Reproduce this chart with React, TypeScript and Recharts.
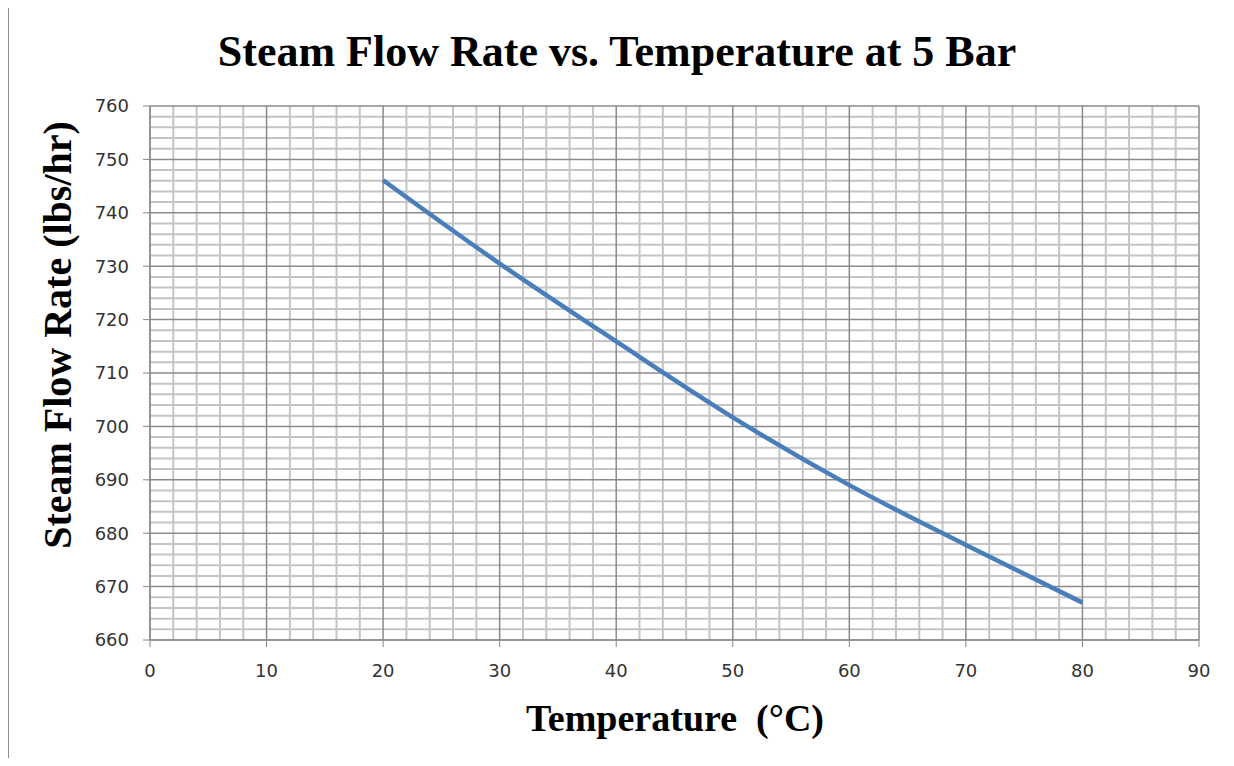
import React from 'react';
import { LineChart, Line, XAxis, YAxis, ReferenceLine } from 'recharts';

const temperatures = [20, 30, 40, 50, 60, 70, 80];
const flowRates = [746.1, 730.5, 715.9, 701.7, 689.0, 677.8, 667.0];

const xTicks = [0, 10, 20, 30, 40, 50, 60, 70, 80, 90];
const yTicks = [660, 670, 680, 690, 700, 710, 720, 730, 740, 750, 760];
const xMinor = [2, 4, 6, 8, 12, 14, 16, 18, 22, 24, 26, 28, 32, 34, 36, 38, 42, 44, 46, 48, 52, 54, 56, 58, 62, 64, 66, 68, 72, 74, 76, 78, 82, 84, 86, 88];
const yMinor = [662, 664, 666, 668, 672, 674, 676, 678, 682, 684, 686, 688, 692, 694, 696, 698, 702, 704, 706, 708, 712, 714, 716, 718, 722, 724, 726, 728, 732, 734, 736, 738, 742, 744, 746, 748, 752, 754, 756, 758];

const data = temperatures.map((t, i) => ({ t, v: flowRates[i] }));

const tickStyle = { fontFamily: 'DejaVu Sans, Verdana, sans-serif', fontSize: 18, fill: '#333' };
const serif = 'Liberation Serif, Times New Roman, serif';

export default function App() {
  return (
    <div style={{ margin: -8, position: 'relative', width: 1234, height: 766, background: '#fff', overflow: 'hidden' }}>
      <div style={{ position: 'absolute', left: 7, top: 6, width: 1300, height: 800, borderLeft: '2px solid #8c8c8c', borderTop: '2px solid #8c8c8c' }} />
      <div style={{ position: 'absolute', left: 0, width: 1234, top: 25, textAlign: 'center', fontFamily: serif, fontWeight: 'bold', fontSize: 44, lineHeight: '54px', color: '#000' }}>
        Steam Flow Rate vs. Temperature at 5 Bar
      </div>
      <div style={{ position: 'absolute', left: 0, top: 0 }}>
        <LineChart width={1234} height={766} data={data} margin={{ top: 106, right: 35, left: 0, bottom: 86 }}>
          <XAxis dataKey="t" type="number" domain={[0, 90]} ticks={xTicks} interval={0} height={40}
            stroke="#868686" tickSize={7} tickMargin={17} tick={tickStyle} />
          <YAxis type="number" domain={[660, 760]} ticks={yTicks} interval={0} width={150}
            stroke="#868686" tickSize={7} tickMargin={14} tick={tickStyle} />
          {xMinor.map((x) => (
            <ReferenceLine key={'xm' + x} x={x} stroke="#c4c4c4" strokeWidth={2} ifOverflow="hidden" />
          ))}
          {yMinor.map((y) => (
            <ReferenceLine key={'ym' + y} y={y} stroke="#c4c4c4" strokeWidth={2} ifOverflow="hidden" />
          ))}
          {xTicks.map((x) => (
            <ReferenceLine key={'xM' + x} x={x} stroke="#8a8a8a" strokeWidth={1.5} />
          ))}
          {yTicks.map((y) => (
            <ReferenceLine key={'yM' + y} y={y} stroke="#8a8a8a" strokeWidth={1.5} />
          ))}
          <Line type="monotone" dataKey="v" stroke="#4a7ebb" strokeWidth={4.5} dot={false} isAnimationActive={false} />
        </LineChart>
      </div>
      <div style={{ position: 'absolute', left: 675 - 300, width: 600, top: 695, textAlign: 'center', fontFamily: serif, fontWeight: 'bold', fontSize: 38, lineHeight: '46px', color: '#000', whiteSpace: 'pre' }}>
        {'Temperature  (°C)'}
      </div>
      <div style={{ position: 'absolute', left: 58 - 300, top: 335 - 24, width: 600, textAlign: 'center', transform: 'rotate(-90deg)', fontFamily: serif, fontWeight: 'bold', fontSize: 40, lineHeight: '48px', color: '#000' }}>
        Steam Flow Rate (lbs/hr)
      </div>
    </div>
  );
}
